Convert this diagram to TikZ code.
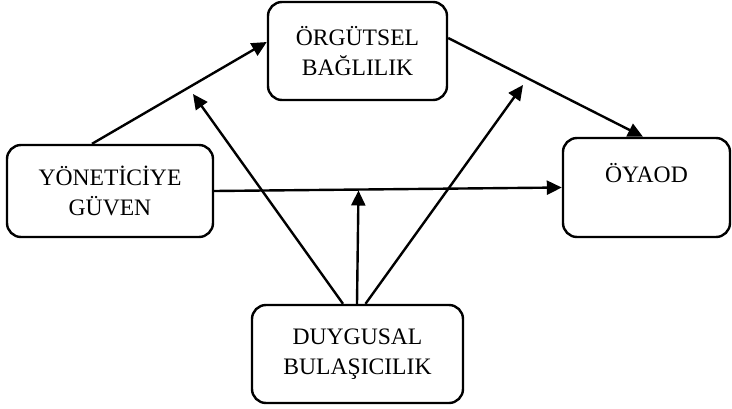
\documentclass[tikz,border=0pt]{standalone}
\usepackage{fontspec}
\setmainfont{Liberation Serif}
\usetikzlibrary{arrows.meta,calc}
\begin{document}
\begin{tikzpicture}[x=1pt,y=-1pt,
  boxnode/.style={draw=black,line width=2.4pt,rounded corners=14pt,inner sep=0pt,
    align=center,font=\fontsize{23.6}{30}\selectfont},
  arr/.style={line width=2.4pt,-{Triangle[length=15pt,width=14pt]}}]
\useasboundingbox (0,0) rectangle (732,408);
\node[boxnode,minimum width=179pt,minimum height=98pt] (og) at (357.5,51) {ÖRGÜTSEL\\BAĞLILIK};
\node[boxnode,minimum width=206pt,minimum height=92pt] (yg) at (110,191) {YÖNETİCİYE\\GÜVEN};
\node[boxnode,minimum width=167pt,minimum height=99pt] (oy) at (646.5,187.5) {ÖYAOD\\\mbox{}};
\node[boxnode,minimum width=211pt,minimum height=98pt] (dg) at (357.5,354) {DUYGUSAL\\BULAŞICILIK};
\coordinate (m1) at (193,94);
\coordinate (m2) at (358.5,190.5);
\coordinate (m3) at (523,85);
\draw[arr] ([xshift=-18pt]yg.north) -- ([yshift=9pt]og.west);
\draw[arr] ([yshift=13pt]og.east) -- ([xshift=-3.5pt]oy.north);
\draw[arr] (yg.east) -- (oy.west);
\draw[arr] ([xshift=-14.5pt]dg.north) -- (m1);
\draw[arr] ([xshift=-0.5pt]dg.north) -- (m2);
\draw[arr] ([xshift=8pt]dg.north) -- (m3);
\end{tikzpicture}
\end{document}
